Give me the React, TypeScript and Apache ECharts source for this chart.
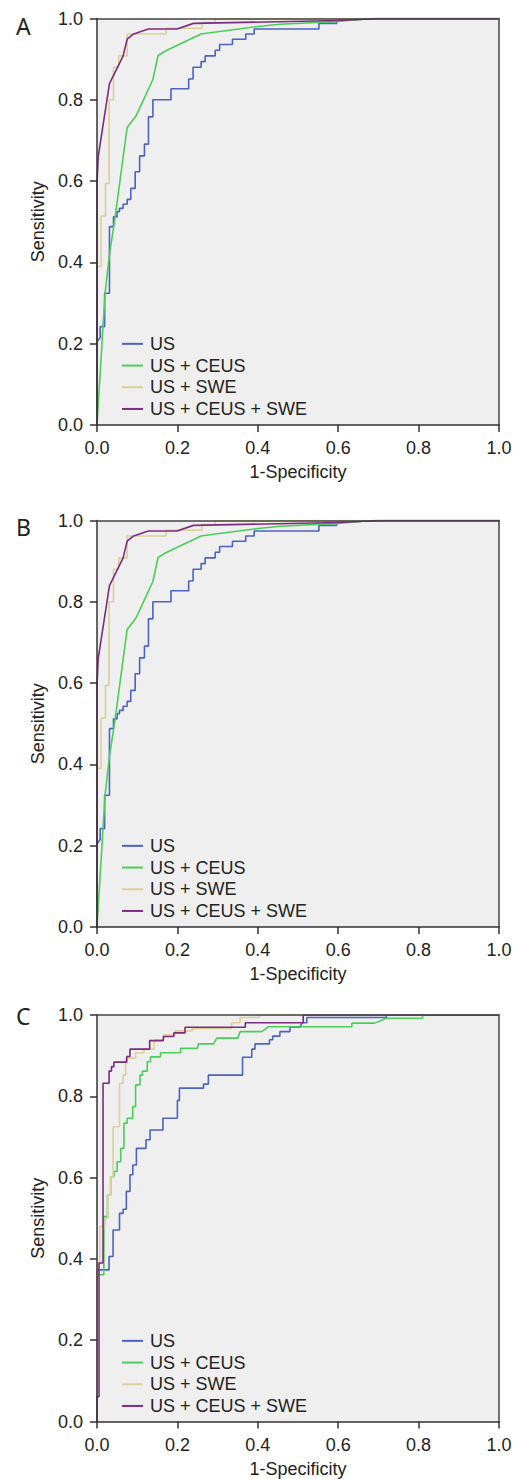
import React, { useEffect, useRef } from "react";
import * as echarts from "echarts";

const seriesNames = ["US", "US + CEUS", "US + SWE", "US + CEUS + SWE"];
const seriesColors = ["#4b63c4", "#4ccd5a", "#dcd09a", "#7b2d80"];
const panelLabels = ["A", "B", "C"];
const tickValues = [0, 0.2, 0.4, 0.6, 0.8, 1.0];

// Panel A (and B, identical in the figure)
const usA = [
  [0, 0], [0, 0.205], [0.008, 0.215], [0.008, 0.242], [0.019, 0.242], [0.019, 0.324],
  [0.031, 0.324], [0.031, 0.488], [0.041, 0.488], [0.041, 0.512], [0.05, 0.512],
  [0.05, 0.525], [0.056, 0.525], [0.056, 0.533], [0.065, 0.533], [0.065, 0.543],
  [0.075, 0.543], [0.075, 0.555], [0.084, 0.555], [0.084, 0.582], [0.095, 0.582],
  [0.095, 0.623], [0.106, 0.623], [0.106, 0.662], [0.118, 0.662], [0.118, 0.691],
  [0.128, 0.691], [0.128, 0.758], [0.139, 0.758], [0.139, 0.8], [0.184, 0.8],
  [0.184, 0.827], [0.228, 0.827], [0.228, 0.851], [0.239, 0.851], [0.239, 0.88],
  [0.259, 0.88], [0.259, 0.894], [0.269, 0.894], [0.269, 0.908], [0.294, 0.908],
  [0.294, 0.922], [0.305, 0.922], [0.305, 0.936], [0.337, 0.936], [0.337, 0.949],
  [0.37, 0.949], [0.37, 0.962], [0.391, 0.962], [0.391, 0.974], [0.552, 0.974],
  [0.552, 0.988], [0.596, 0.988], [0.596, 0.995], [0.7, 1.0], [1, 1],
];
const ceusA = [
  [0, 0], [0.02, 0.324], [0.031, 0.42], [0.044, 0.504], [0.075, 0.732], [0.097, 0.76],
  [0.139, 0.85], [0.152, 0.909], [0.17, 0.92], [0.259, 0.962], [0.281, 0.965],
  [0.406, 0.981], [0.455, 0.986], [0.6, 0.993], [0.68, 1.0], [1, 1],
];
const sweA = [
  [0, 0], [0, 0.39], [0.01, 0.39], [0.01, 0.514], [0.021, 0.514], [0.021, 0.594],
  [0.03, 0.594], [0.03, 0.8], [0.041, 0.8], [0.041, 0.88], [0.054, 0.88], [0.054, 0.908],
  [0.075, 0.908], [0.075, 0.962], [0.172, 0.962], [0.172, 0.976], [0.261, 0.976],
  [0.261, 0.99], [0.294, 0.99], [0.294, 1.0], [1, 1],
];
const allA = [
  [0, 0], [0, 0.594], [0.003, 0.66], [0.01, 0.705], [0.031, 0.84], [0.065, 0.908],
  [0.075, 0.949], [0.091, 0.962], [0.128, 0.974], [0.199, 0.974], [0.24, 0.988],
  [0.6, 0.995], [0.7, 1.0], [1, 1],
];

// Panel C
const usC = [
  [0, 0], [0, 0.373], [0.03, 0.373], [0.03, 0.406], [0.04, 0.406], [0.04, 0.471],
  [0.056, 0.471], [0.056, 0.512], [0.065, 0.512], [0.065, 0.522], [0.073, 0.522],
  [0.073, 0.566], [0.082, 0.566], [0.082, 0.607], [0.089, 0.607], [0.089, 0.631],
  [0.098, 0.631], [0.098, 0.672], [0.122, 0.672], [0.122, 0.693], [0.132, 0.693],
  [0.132, 0.717], [0.164, 0.717], [0.164, 0.746], [0.2, 0.746], [0.2, 0.79],
  [0.205, 0.79], [0.205, 0.82], [0.265, 0.82], [0.265, 0.83], [0.277, 0.83],
  [0.277, 0.852], [0.362, 0.852], [0.362, 0.896], [0.385, 0.896], [0.385, 0.916],
  [0.393, 0.916], [0.393, 0.929], [0.429, 0.929], [0.429, 0.939], [0.437, 0.939],
  [0.437, 0.948], [0.455, 0.948], [0.455, 0.959], [0.48, 0.959], [0.48, 0.97],
  [0.505, 0.97], [0.51, 0.981], [0.522, 0.981], [0.522, 0.994], [0.72, 0.994],
  [0.72, 1.0], [1, 1],
];
const ceusC = [
  [0, 0], [0, 0.361], [0.017, 0.361], [0.017, 0.504], [0.026, 0.504], [0.026, 0.557],
  [0.034, 0.557], [0.034, 0.602], [0.042, 0.602], [0.042, 0.615], [0.05, 0.615],
  [0.05, 0.639], [0.059, 0.639], [0.059, 0.672], [0.067, 0.672], [0.067, 0.734],
  [0.075, 0.734], [0.075, 0.746], [0.089, 0.746], [0.089, 0.775], [0.096, 0.775],
  [0.096, 0.828], [0.107, 0.828], [0.107, 0.852], [0.113, 0.852], [0.113, 0.862],
  [0.125, 0.862], [0.125, 0.885], [0.133, 0.885], [0.133, 0.897], [0.158, 0.897],
  [0.158, 0.907], [0.208, 0.907], [0.208, 0.918], [0.25, 0.918], [0.252, 0.929],
  [0.29, 0.929], [0.298, 0.943], [0.35, 0.943], [0.356, 0.959], [0.41, 0.959],
  [0.426, 0.971], [0.634, 0.971], [0.634, 0.98], [0.691, 0.98], [0.72, 0.992],
  [0.81, 0.992], [0.81, 1.0], [1, 1],
];
const sweC = [
  [0, 0], [0, 0.39], [0.007, 0.39], [0.007, 0.48], [0.02, 0.48], [0.02, 0.5],
  [0.027, 0.5], [0.027, 0.557], [0.034, 0.557], [0.034, 0.602], [0.04, 0.602],
  [0.04, 0.725], [0.056, 0.725], [0.056, 0.832], [0.065, 0.832], [0.065, 0.852],
  [0.071, 0.852], [0.071, 0.894], [0.096, 0.894], [0.096, 0.907], [0.117, 0.907],
  [0.117, 0.916], [0.142, 0.916], [0.142, 0.939], [0.166, 0.939], [0.166, 0.951],
  [0.195, 0.951], [0.195, 0.961], [0.237, 0.961], [0.237, 0.967], [0.335, 0.967],
  [0.335, 0.981], [0.356, 0.981], [0.356, 0.994], [0.404, 0.994], [0.404, 1.0], [1, 1],
];
const allC = [
  [0, 0], [0, 0.061], [0.005, 0.061], [0.005, 0.39], [0.015, 0.39], [0.015, 0.832],
  [0.03, 0.832], [0.03, 0.862], [0.036, 0.862], [0.036, 0.873], [0.042, 0.873],
  [0.042, 0.884], [0.074, 0.884], [0.074, 0.898], [0.082, 0.898], [0.082, 0.916],
  [0.131, 0.916], [0.131, 0.937], [0.165, 0.937], [0.165, 0.947], [0.191, 0.947],
  [0.191, 0.956], [0.219, 0.956], [0.219, 0.97], [0.369, 0.97], [0.369, 0.981],
  [0.513, 0.981], [0.513, 1.0], [1, 1],
];

const panelSeries = [
  [usA, ceusA, sweA, allA],
  [usA, ceusA, sweA, allA],
  [usC, ceusC, sweC, allC],
];

// layout
const panelTops = [18.5, 520.5, 1015];
const legendTops = [333, 835, 1330];
const letterTops = [14, 515, 1004];
const plotLeft = 97;
const plotWidth = 402;
const plotHeight = 406.5;
const FONT = "'Liberation Sans', Arial, Helvetica, sans-serif";
const TEXT = "#222";
const AXIS = "#333";

export default function App() {
  const ref = useRef<HTMLDivElement>(null);
  useEffect(() => {
    if (!ref.current) return;
    const chart = echarts.init(ref.current, null, { renderer: "svg" });
    const fmt = (v: number) => v.toFixed(1);
    const grid = panelTops.map((t) => ({
      left: plotLeft,
      top: t,
      width: plotWidth,
      height: plotHeight,
      show: true,
      backgroundColor: "#efefef",
      borderWidth: 0,
    }));
    const xAxis: any[] = [];
    const yAxis: any[] = [];
    panelTops.forEach((_, i) => {
      xAxis.push({
        gridIndex: i,
        type: "value",
        position: "bottom",
        min: 0,
        max: 1,
        interval: 0.2,
        z: 5,
        axisLine: { show: true, onZero: false, lineStyle: { color: AXIS, width: 1.5 } },
        axisTick: { show: true, length: 7, lineStyle: { color: AXIS, width: 1.5 } },
        axisLabel: { fontSize: 18, color: TEXT, margin: 14, fontFamily: FONT, formatter: fmt },
        splitLine: { show: false },
        name: "1-Specificity",
        nameLocation: "middle",
        nameGap: 38,
        nameTextStyle: { fontSize: 18, color: TEXT, fontFamily: FONT },
      });
      xAxis.push({
        gridIndex: i,
        type: "value",
        position: "top",
        min: 0,
        max: 1,
        z: 5,
        axisLine: { show: true, onZero: false, lineStyle: { color: "#444", width: 1.5 } },
        axisTick: { show: false },
        axisLabel: { show: false },
        splitLine: { show: false },
      });
      yAxis.push({
        gridIndex: i,
        type: "value",
        position: "left",
        min: 0,
        max: 1,
        interval: 0.2,
        z: 5,
        axisLine: { show: true, onZero: false, lineStyle: { color: AXIS, width: 1.5 } },
        axisTick: { show: true, length: 7, lineStyle: { color: AXIS, width: 1.5 } },
        axisLabel: { fontSize: 18, color: TEXT, margin: 14, fontFamily: FONT, formatter: fmt },
        splitLine: { show: false },
        name: "Sensitivity",
        nameLocation: "middle",
        nameRotate: 90,
        nameGap: 48,
        nameTextStyle: { fontSize: 18, color: TEXT, fontFamily: FONT },
      });
      yAxis.push({
        gridIndex: i,
        type: "value",
        position: "right",
        min: 0,
        max: 1,
        z: 5,
        axisLine: { show: true, onZero: false, lineStyle: { color: "#444", width: 1.5 } },
        axisTick: { show: false },
        axisLabel: { show: false },
        splitLine: { show: false },
      });
    });
    const series: any[] = [];
    panelSeries.forEach((set, i) => {
      set.forEach((data, k) => {
        series.push({
          type: "line",
          name: seriesNames[k],
          xAxisIndex: 2 * i,
          yAxisIndex: 2 * i,
          data,
          showSymbol: false,
          symbol: "none",
          color: seriesColors[k],
          lineStyle: { width: 1.6, color: seriesColors[k] },
          z: 2,
        });
      });
    });
    const legend = legendTops.map((t) => ({
      orient: "vertical",
      left: 122,
      top: t,
      padding: 0,
      itemGap: 0,
      itemWidth: 21,
      itemHeight: 2,
      icon: "rect",
      selectedMode: false,
      data: seriesNames,
      textStyle: { fontSize: 18, color: TEXT, fontFamily: FONT, lineHeight: 21.7, padding: [0, 0, 0, 2] },
    }));
    const graphic = panelLabels.map((l, i) => ({
      type: "text",
      left: 16,
      top: letterTops[i],
      z: 10,
      style: { text: l, fontSize: 23, fill: TEXT, fontFamily: "'Noto Sans', sans-serif" },
    }));
    chart.setOption({
      animation: false,
      backgroundColor: "#ffffff",
      grid,
      xAxis,
      yAxis,
      legend,
      series,
      graphic,
    });
    return () => chart.dispose();
  }, []);
  return (
    <div
      ref={ref}
      style={{ position: "absolute", left: 0, top: 0, width: 525, height: 1479 }}
    />
  );
}
